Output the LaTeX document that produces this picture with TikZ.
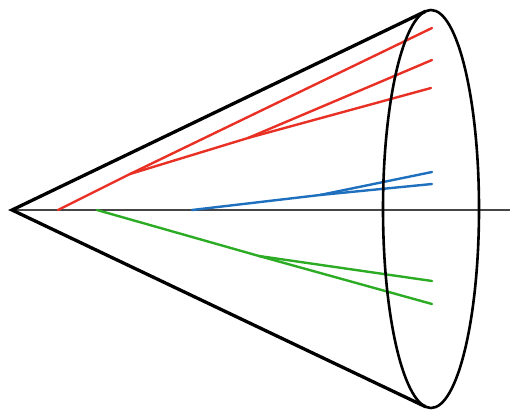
\documentclass[tikz,border=0pt]{standalone}
\usetikzlibrary{calc}
\definecolor{jetred}{RGB}{232,48,36}
\definecolor{jetblue}{RGB}{30,112,190}
\definecolor{jetgreen}{RGB}{44,172,36}
\definecolor{axisgray}{RGB}{70,70,70}
\begin{document}
\begin{tikzpicture}[x=1pt,y=-1pt,
  conewall/.style={line width=3.3pt,black,line cap=round},
  rim/.style={line width=2.6pt,black},
  axisline/.style={line width=2.2pt,axisgray},
  redjet/.style={line width=2.4pt,jetred,line cap=round,line join=round},
  bluejet/.style={line width=2.4pt,jetblue,line cap=round,line join=round},
  greenjet/.style={line width=2.4pt,jetgreen,line cap=round,line join=round}]
\useasboundingbox (0,0) rectangle (510,412);
% apex, rim and axis end
\coordinate (apex) at (12,210);
\coordinate (c) at (431,209);
\coordinate (axisend) at (510,210);
\coordinate (topT) at ($(c)+({48*cos(263.4)},{199*sin(263.4)})$);
\coordinate (botT) at ($(c)+({48*cos(96.6)},{199*sin(96.6)})$);
% shower: red
\coordinate (r0) at (58,210);
\coordinate (rA) at (130,174);
\coordinate (rB) at (248,138);
\coordinate (r1) at (432,28);
\coordinate (r2) at (432,60);
\coordinate (r3) at (431,88);
% shower: blue
\coordinate (b0) at (192,210);
\coordinate (bA) at (320,195);
\coordinate (b1) at (432,172);
\coordinate (b2) at (432,184);
% shower: green
\coordinate (g0) at (97,210);
\coordinate (gA) at (259,256);
\coordinate (g1) at (432,281);
\coordinate (g2) at (432,304);

\draw[axisline] (apex) -- (axisend);
\draw[redjet] (r0) -- (rA) -- (r1);
\draw[redjet] (rA) -- (rB) -- (r2);
\draw[redjet] (rB) -- (r3);
\draw[bluejet] (b0) -- (bA) -- (b1);
\draw[bluejet] (bA) -- (b2);
\draw[greenjet] (g0) -- (gA) -- (g1);
\draw[greenjet] (gA) -- (g2);
\draw[rim] (c) ellipse [x radius=48, y radius=199];
\draw[conewall] (topT) -- (apex) -- (botT);
\end{tikzpicture}
\end{document}
